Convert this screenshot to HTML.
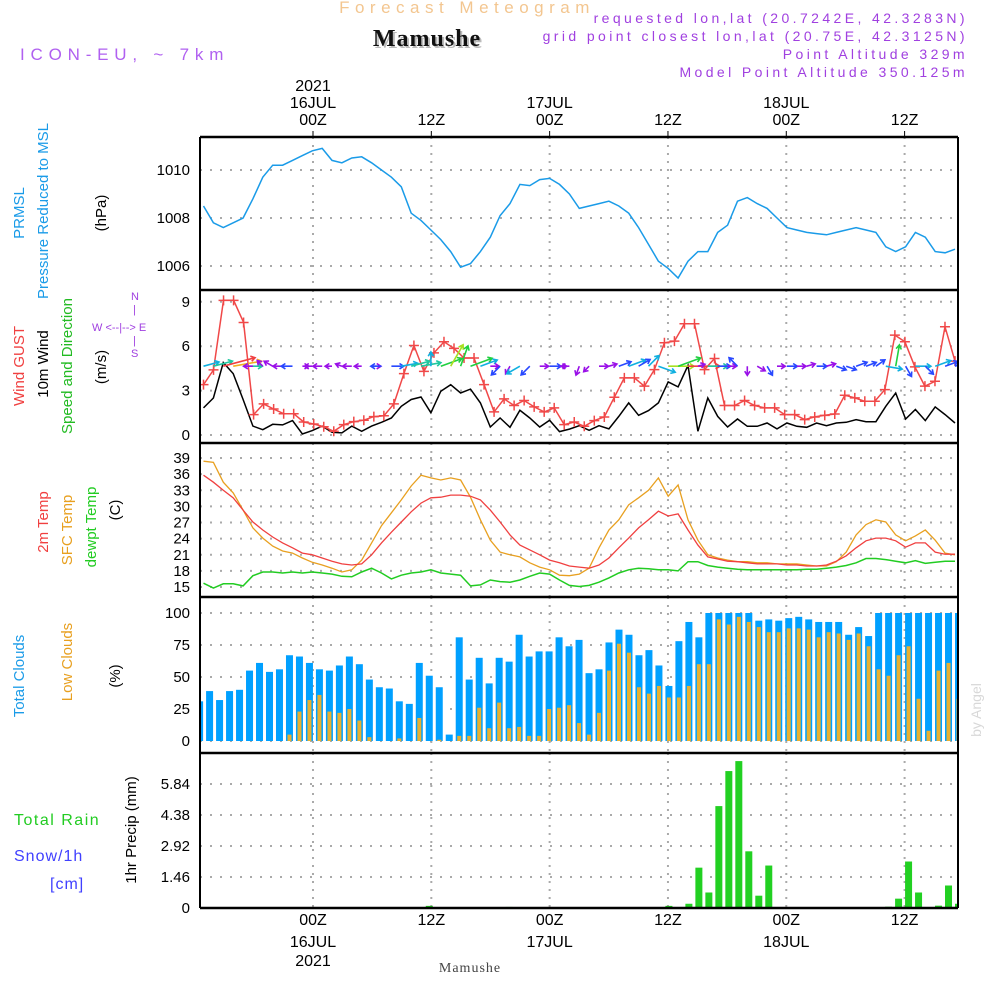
<!DOCTYPE html>
<html><head><meta charset="utf-8"><style>
html,body{margin:0;padding:0;background:#fff;}
svg{display:block;font-family:"Liberation Sans",sans-serif;}
</style></head><body>
<svg id="chart" width="1000" height="1000" viewBox="0 0 1000 1000" xmlns="http://www.w3.org/2000/svg">
<defs>
<clipPath id="cp"><rect x="200" y="137" width="758" height="771"/></clipPath>
</defs>
<text x="467" y="13" text-anchor="middle" font-size="17" fill="#f3c690" letter-spacing="5.5">Forecast Meteogram</text>
<text x="429" y="48" text-anchor="middle" font-size="24" font-weight="bold" font-family="Liberation Serif,serif" fill="#bbb" letter-spacing="1">Mamushe</text>
<text x="427" y="46" text-anchor="middle" font-size="24" font-weight="bold" font-family="Liberation Serif,serif" fill="#111" letter-spacing="1">Mamushe</text>
<text x="20" y="60" font-size="17" fill="#b060f0" letter-spacing="5.8">ICON-EU, ~ 7km</text>
<g font-size="14" fill="#a040e0" text-anchor="end" letter-spacing="3.4">
<text x="968" y="23">requested lon,lat (20.7242E, 42.3283N)</text>
<text x="968" y="41">grid point closest lon,lat (20.75E, 42.3125N)</text>
<text x="968" y="59">Point Altitude 329m</text>
<text x="968" y="77">Model Point Altitude 350.125m</text>
</g>
<g id="grid"></g>
<g id="marks" clip-path="url(#cp)"></g>
<g id="frame"></g>
<g id="labels"></g>
</svg>
<script>
// ---------- DATA ----------
const timeTickHours = [0, 12, 24, 36, 48, 60];
const timeTickTop = [["2021","16JUL","00Z"],["","","12Z"],["","17JUL","00Z"],["","","12Z"],["","18JUL","00Z"],["","","12Z"]];
const timeTickBottom = [["00Z","16JUL","2021"],["12Z","",""],["00Z","17JUL",""],["12Z","",""],["00Z","18JUL",""],["12Z","",""]];

const pressureTicks = [1006, 1008, 1010];
const windTicks = [0, 3, 6, 9];
const tempTicks = [15, 18, 21, 24, 27, 30, 33, 36, 39];
const cloudTicks = [0, 25, 50, 75, 100];
const precipTicks = [0, 1.46, 2.92, 4.38, 5.84];

const pressure = [1008.5,1007.8,1007.6,1007.8,1008.0,1008.8,1009.7,1010.2,1010.2,1010.4,
1010.6,1010.8,1010.9,1010.4,1010.3,1010.5,1010.55,1010.3,1010.0,1009.7,
1009.3,1008.2,1007.9,1007.5,1007.1,1006.6,1005.95,1006.1,1006.6,1007.2,
1008.1,1008.6,1009.4,1009.35,1009.6,1009.65,1009.4,1009.0,1008.4,1008.5,
1008.6,1008.7,1008.5,1008.2,1007.6,1006.9,1006.2,1005.9,1005.5,1006.2,
1006.6,1006.6,1007.4,1007.7,1008.7,1008.85,1008.6,1008.4,1008.0,1007.6,
1007.5,1007.4,1007.35,1007.3,1007.4,1007.5,1007.6,1007.5,1007.4,1006.8,
1006.6,1006.8,1007.4,1007.2,1006.6,1006.55,1006.7];

const windGust = [3.4,4.4,9.1,9.1,7.6,1.38,2.1,1.76,1.44,1.44,
0.88,0.74,0.56,0.25,0.7,0.9,1.0,1.24,1.3,2.1,
4.15,6.05,4.3,5.55,6.3,5.85,5.2,5.2,3.4,1.56,
2.44,1.99,2.33,1.9,1.56,1.83,0.7,
0.88,0.59,0.97,1.22,2.55,3.86,3.86,3.3,4.42,6.23,
6.34,7.52,7.52,4.42,5.17,1.99,1.99,2.33,1.99,1.83,
1.83,1.38,1.38,1.04,1.22,1.33,1.42,2.69,2.51,2.28,
2.28,3.07,6.75,6.3,4.6,3.3,3.63,7.31,4.99];

const wind10m = [1.83,2.5,4.9,4.15,2.4,0.6,0.36,0.72,0.68,0.97,
0.07,0.3,0.6,0.18,0.14,0.6,0.25,0.6,0.86,1.15,
1.94,2.4,2.57,1.5,2.96,3.4,2.84,3.1,2.17,0.54,
1.15,0.52,1.67,1.15,0.54,1.0,0.23,0.4,
0.63,0.32,0.63,0.41,1.26,2.17,1.33,1.65,2.17,3.59,
3.25,4.7,0.25,2.5,1.26,0.54,1.08,0.59,0.59,0.81,
0.41,0.81,0.59,0.52,0.81,0.63,0.81,0.86,1.04,0.9,
0.9,1.94,2.84,1.08,1.72,0.97,1.9,1.38,0.81];

const windDirection = [15,15,15,10,0,180,135,150,180,180,
0,180,180,180,160,180,180,0,180,0,
10,15,10,90,20,60,70,20,20,0,
225,240,210,225,0,0,0,180,250,225,
0,15,20,20,30,45,-20,0,20,0,
15,0,0,0,135,270,-30,300,0,0,
0,15,0,15,-20,-20,20,20,35,-10,
80,-60,0,-45,20,20,20];

const temp2m = [35.8,34.5,33.0,31.6,29.3,27.1,25.6,24.3,23.2,22.3,
21.3,21.0,20.4,19.8,19.3,19.1,19.3,21.0,23.2,25.2,
27.1,29.0,30.6,31.6,31.7,32.1,32.1,31.9,31.2,29.3,
27.1,24.7,22.8,21.9,21.0,20.0,19.5,18.9,18.7,18.5,
19.1,20.4,22.3,24.1,26.0,27.5,29.1,28.2,28.6,25.6,
22.8,20.6,20.2,19.8,19.7,19.5,19.3,19.3,19.3,19.1,
19.1,18.9,18.9,19.1,19.8,20.8,22.3,23.6,24.1,24.1,
23.6,22.4,23.2,23.2,21.5,21.1,21.1];

const tempSfc = [38.4,38.2,34.5,32.5,29.3,26.0,24.1,22.6,21.7,21.3,
20.4,19.6,19.1,18.5,17.8,18.2,20.0,23.2,26.4,28.8,
31.2,33.8,35.8,35.3,34.9,35.3,34.9,31.7,27.5,23.7,
21.5,21.0,20.6,19.5,18.7,18.2,17.2,17.1,17.4,18.5,
22.3,25.6,27.5,30.3,31.6,33.0,35.3,31.9,34.0,27.5,
23.7,21.0,20.4,20.0,19.7,19.7,19.5,19.5,19.3,19.3,
19.3,19.1,18.9,18.9,19.7,21.5,24.7,26.6,27.5,27.1,
24.7,23.6,24.5,25.6,23.7,21.3,21.0];

const dewpoint = [15.7,14.8,15.6,15.6,15.2,17.1,17.8,17.8,17.6,17.8,17.6,
17.8,17.6,17.4,17.0,16.9,17.8,18.5,17.6,16.5,17.2,17.6,
17.8,18.2,17.6,17.4,17.2,15.2,15.4,16.3,16.0,15.9,16.3,
17.0,17.6,17.4,16.3,15.3,15.1,15.3,15.9,16.7,17.6,18.2,
18.5,18.4,18.2,18.2,18.0,19.7,19.7,19.0,18.7,18.5,18.3,
18.2,18.2,18.2,18.2,18.2,18.2,18.3,18.3,18.5,18.7,19.0,
19.5,20.3,20.3,20.1,19.8,19.5,19.9,19.4,19.6,19.8,19.8];

const totalClouds = [31,39,32,39,40,55,61,54,56,67,
66,61,56,55,59,66,60,48,42,41,
31,29,61,51,42,5,81,48,65,45,
65,62,83,66,70,70,81,74,79,
53,56,77,87,83,67,71,59,43,78,
93,81,100,100,100,100,100,94,95,94,
96,97,95,93,93,93,83,89,82,100,
100,100,100,100,100,100,100,100];

const lowClouds = [0,0,0,0,0,0,0,0,0,5,
23,32,36,23,22,25,16,3,0,0,
2,0,18,0,1,0,4,4,26,10,
30,10,11,4,4,25,26,28,14,
5,22,55,76,69,42,37,43,34,34,
43,60,60,95,91,97,93,89,85,85,
88,88,87,81,85,84,79,84,74,56,
51,67,74,33,8,55,61,33];

const precip = [0,0,0,0,0,0,0,0,0,0,
0,0,0,0,0,0,0,0,0,0,
0,0,0,0.1,0,0,0,0,0,0,
0,0.05,0,0,0,0,0,0,0,0,
0,0,0,0,0,0,0,0.1,0,0.2,
1.9,0.73,4.8,6.45,6.92,2.67,0.58,2.0,0,0,
0,0,0,0,0,0,0,0,0,0.06,
0.44,2.19,0.73,0,0.11,1.06,0.2];

// ---------- SCALES ----------
const NS = "http://www.w3.org/2000/svg";
const X0 = 200, X1 = 958;
function xTime(h){ return 313 + 9.86*h; }
function xLine(i, n){ return 203.5 + i*(751.5/(n-1)); }
function xBar(k, n){ return 199.6 + k*(758.9/(n-1)); }
function yP(v){ return 170 + (1010 - v)*24; }
function yW(v){ return 435 - v*14.8; }
function yT(v){ return 458 + (39 - v)*5.375; }
function yC(v){ return 741 - v*1.28; }
function yR(v){ return 908 - v*21.23; }

function mk(tag, attrs, parent){
  const e = document.createElementNS(NS, tag);
  for (const k in attrs) e.setAttribute(k, attrs[k]);
  parent.appendChild(e);
  return e;
}
const grid = document.getElementById('grid');
const marks = document.getElementById('marks');
const frame = document.getElementById('frame');
const labels = document.getElementById('labels');

// ---------- GRID ----------
const panels = [[137,290],[290,443],[443,597],[597,753],[753,908]];
timeTickHours.forEach(function(h){
  const x = xTime(h);
  panels.forEach(function(p){
    const l = mk('line', {x1:x, x2:x, y1:p[0], y2:p[1], stroke:'#aaa', 'stroke-width':2, 'stroke-dasharray':'2,6'}, grid);
    
    
  });
});
function hTicks(ticks, yf, fmt){
  ticks.forEach(function(v){
    const y = yf(v);
    const l = mk('line', {x1:X0, x2:X1, y1:y, y2:y, stroke:'#aaa', 'stroke-width':2, 'stroke-dasharray':'2,8'}, grid);
    
    
    const t = mk('text', {x:190, y:y+5, 'text-anchor':'end', 'font-size':15, fill:'#000'}, labels);
    t.textContent = fmt ? fmt(v) : String(v);
    
    
  });
}
hTicks(pressureTicks, yP);
hTicks(windTicks, yW);
hTicks(tempTicks, yT);
hTicks(cloudTicks, yC);
hTicks(precipTicks, yR, function(v){ return v===0 ? "0" : v.toFixed(2); });

// ---------- TIME LABELS ----------
timeTickHours.forEach(function(h, j){
  const x = xTime(h);
  const top = timeTickTop[j];
  [91,108,125].forEach(function(y, r){
    if (!top[r]) return;
    const t = mk('text', {x:x, y:y, 'text-anchor':'middle', 'font-size':16, fill:'#000'}, labels);
    t.textContent = top[r];
    
    
  });
  const bot = timeTickBottom[j];
  [925,947,966].forEach(function(y, r){
    if (!bot[r]) return;
    const t = mk('text', {x:x, y:y, 'text-anchor':'middle', 'font-size':16, fill:'#000'}, labels);
    t.textContent = bot[r];
    
    
  });
  const tk = mk('line', {x1:x, x2:x, y1:137, y2:131, stroke:'#000', 'stroke-width':1}, frame);
  
  
});

// ---------- SERIES ----------
function polyline(arr, yf, color, name, w){
  const pts = arr.map(function(v, i){ return xLine(i, arr.length).toFixed(1) + ',' + yf(v).toFixed(1); }).join(' ');
  const p = mk('polyline', {points:pts, fill:'none', stroke:color, 'stroke-width':w||1.5}, marks);
  
  
  return p;
}
polyline(pressure, yP, '#1a9be8', 'pressure-line');
polyline(wind10m, yW, '#000', 'wind-10m-line');
polyline(windGust, yW, '#f04848', 'wind-gust-line');
windGust.forEach(function(v, i){
  const x = xLine(i, windGust.length), y = yW(v);
  const g = mk('path', {d:'M'+(x-5)+' '+y+'H'+(x+5)+'M'+x+' '+(y-5)+'V'+(y+5), stroke:'#f04848', 'stroke-width':1.5}, marks);
  
  
});
function speedColor(s){
  if (s < 0.8) return '#9a10e8';
  if (s < 1.5) return '#2848ff';
  if (s < 2.2) return '#10b0e0';
  if (s < 2.8) return '#20c8a0';
  if (s < 3.3) return '#20d040';
  if (s < 4.0) return '#a8e020';
  if (s < 4.6) return '#f0b020';
  return '#f04040';
}
windDirection.forEach(function(d, i){
  const s = wind10m[i];
  const x = xLine(i, windDirection.length), y = yW(4.65);
  const len = 6 + 5.5*s;
  const a = d*Math.PI/180;
  const ex = x + len*Math.cos(a), ey = y - len*Math.sin(a);
  const h1 = a + Math.PI*0.82, h2 = a - Math.PI*0.82;
  const col = speedColor(s);
  const ar = mk('path', {d:'M'+x.toFixed(1)+' '+y.toFixed(1)+'L'+ex.toFixed(1)+' '+ey.toFixed(1)+
    'M'+(ex+5*Math.cos(h1)).toFixed(1)+' '+(ey-5*Math.sin(h1)).toFixed(1)+'L'+ex.toFixed(1)+' '+ey.toFixed(1)+
    'L'+(ex+5*Math.cos(h2)).toFixed(1)+' '+(ey-5*Math.sin(h2)).toFixed(1),
    fill:'none', stroke:col, 'stroke-width':1.6}, marks);
  
  
});
polyline(tempSfc, yT, '#e8a020', 'sfc-temp-line', 1.3);
polyline(temp2m, yT, '#f04040', 'temp-2m-line', 1.3);
polyline(dewpoint, yT, '#22cc22', 'dewpoint-line', 1.5);

totalClouds.forEach(function(v, k){
  const x = xBar(k, totalClouds.length);
  const r = mk('rect', {x:x-3.5, y:yC(v), width:7, height:yC(0)-yC(v), fill:'#00a0ff'}, marks);
  
  
});
lowClouds.forEach(function(v, k){
  if (v <= 0) return;
  const x = xBar(k, lowClouds.length);
  const r = mk('rect', {x:x-2, y:yC(v), width:4, height:yC(0)-yC(v), fill:'#e8b030'}, marks);
  
  
});
precip.forEach(function(v, k){
  if (v <= 0) return;
  const x = xBar(k, precip.length);
  const r = mk('rect', {x:x-3.5, y:yR(v), width:7, height:yR(0)-yR(v), fill:'#22d022'}, marks);
  
  
});

// ---------- FRAME ----------
[137,290,443,597,753,908].forEach(function(y){
  const l = mk('line', {x1:X0, x2:X1, y1:y, y2:y, stroke:'#000', 'stroke-width':2.5}, frame);
  
  
});
[X0, X1].forEach(function(x){
  const l = mk('line', {x1:x, x2:x, y1:137, y2:908, stroke:'#000', 'stroke-width':2}, frame);
  
  
});

// ---------- AXIS LABELS ----------
function vlabel(txt, cx, cy, color, name, size){
  const t = mk('text', {x:cx+6, y:cy, 'text-anchor':'middle', 'font-size':size||15, fill:color, transform:'rotate(-90 '+(cx+6)+' '+cy+')'}, labels);
  t.textContent = txt;
  
  
}
vlabel('PRMSL', 18, 213, '#1a9be8', 'prmsl-label');
vlabel('Pressure Reduced to MSL', 42, 211, '#1a9be8', 'pressure-axis-title');
vlabel('(hPa)', 100, 213, '#000', 'pressure-unit');
vlabel('Wind GUST', 18, 366, '#f04040', 'gust-label');
vlabel('10m Wind', 42, 364, '#000', 'wind-10m-label');
vlabel('Speed and Direction', 66, 366, '#22bb22', 'wind-axis-title');
vlabel('(m/s)', 100, 367, '#000', 'wind-unit');
vlabel('2m Temp', 42, 522, '#f04040', 'temp-2m-label');
vlabel('SFC Temp', 66, 530, '#e8a020', 'sfc-temp-label');
vlabel('dewpt Temp', 90, 527, '#22cc22', 'dewpoint-label');
vlabel('(C)', 114, 510, '#000', 'temp-unit');
vlabel('Total Clouds', 18, 676, '#1a9be8', 'total-clouds-label');
vlabel('Low Clouds', 66, 662, '#e8a020', 'low-clouds-label');
vlabel('(%)', 114, 676, '#000', 'clouds-unit');
vlabel('1hr Precip (mm)', 130, 830, '#000', 'precip-axis-title');
vlabel('by Angel', 975, 710, '#d8d8d8', 'watermark', 14);

function htext(txt, x, y, color, name, size, extra){
  const t = mk('text', {x:x, y:y, 'font-size':size||15, fill:color}, labels);
  if (extra) for (const k in extra) t.setAttribute(k, extra[k]);
  t.textContent = txt;
  
  
}
htext('Total  Rain', 14, 825, '#22cc22', 'rain-label', 16, {'xml:space':'preserve', 'letter-spacing':'1.5'});
htext('Snow/1h', 14, 861, '#4040ff', 'snow-label', 16, {'letter-spacing':'1'});
htext('[cm]', 50, 889, '#4040ff', 'snow-unit', 16, {'letter-spacing':'1'});
htext('Mamushe', 470, 972, '#444', 'bottom-location', 14, {'text-anchor':'middle', 'font-family':'Liberation Serif,serif', 'letter-spacing':'1'});
// compass
htext('N', 131, 300, '#a040e0', 'compass-north', 11);
htext('|', 133, 313, '#a040e0', 'compass-line', 11);
htext('W <--|--> E', 92, 331, '#a040e0', 'compass-we', 11);
htext('|', 133, 344, '#a040e0', 'compass-line', 11);
htext('S', 131, 357, '#a040e0', 'compass-south', 11);
</script>
</body></html>
